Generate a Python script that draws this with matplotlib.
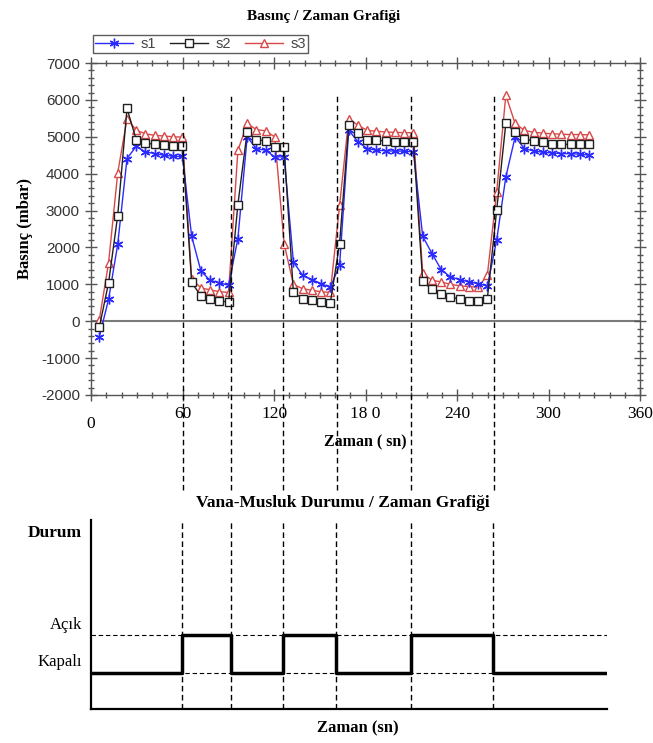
import matplotlib
matplotlib.use('Agg')
import matplotlib.pyplot as plt
from matplotlib.ticker import MultipleLocator

plt.rcParams['axes.unicode_minus'] = False

SERIF = ['Liberation Serif', 'DejaVu Serif']
SANS = ['Liberation Sans', 'DejaVu Sans']

# sample times (s)
t = [5.4, 11.5, 17.5, 23.6, 29.6, 35.7, 41.8, 47.8, 53.9, 59.9,
     66.0, 72.1, 78.1, 84.2, 90.2, 96.3, 102.4, 108.4, 114.5, 120.5,
     126.6, 132.7, 138.7, 144.8, 150.8, 156.9, 163.0, 169.0, 175.1, 181.1,
     187.2, 193.3, 199.3, 205.4, 211.4, 217.5, 223.6, 229.6, 235.7, 241.7,
     247.8, 253.9, 259.9, 266.0, 272.0, 278.1, 284.2, 290.2, 296.3, 302.3,
     308.4, 314.5, 320.5, 326.6]

s1 = [-425, 590, 2085, 4410, 4740, 4590, 4545, 4500, 4470, 4470,
      2300, 1355, 1110, 1040, 975, 2240, 4995, 4680, 4635, 4455,
      4455, 1610, 1245, 1130, 1020, 915, 1520, 5175, 4860, 4680,
      4635, 4620, 4610, 4610, 4590, 2300, 1835, 1400, 1200, 1130,
      1065, 1020, 950, 2195, 3910, 4995, 4680, 4615, 4580, 4560,
      4545, 4540, 4530, 4500]

s2 = [-170, 1040, 2865, 5770, 4925, 4830, 4795, 4780, 4760, 4760,
      1050, 680, 590, 550, 520, 3160, 5140, 4925, 4885, 4725,
      4725, 780, 615, 570, 520, 495, 2105, 5310, 5100, 4925,
      4905, 4885, 4860, 4860, 4860, 1085, 860, 725, 660, 595,
      550, 550, 615, 3010, 5360, 5130, 4950, 4880, 4845, 4815,
      4795, 4795, 4795, 4795]

s3 = [30, 1580, 4020, 5490, 5180, 5080, 5040, 5020, 5000, 4990,
      1150, 900, 850, 800, 780, 4630, 5360, 5195, 5160, 4995,
      2105, 1000, 880, 840, 800, 780, 3140, 5490, 5310, 5175,
      5150, 5130, 5120, 5110, 5110, 1300, 1110, 1065, 1000, 960,
      940, 920, 1250, 3500, 6125, 5360, 5175, 5120, 5100, 5080,
      5070, 5060, 5060, 5050]

# valve switching times (s) and state in each interval (0 = Kapalı, 1 = Açık)
switch_t = [60, 92, 126, 161, 210, 264]
step_t = [0, 60, 92, 126, 161, 210, 264, 339]
state = [0, 1, 0, 1, 0, 1, 0, 0]

xticks = [0, 60, 120, 180, 240, 300, 360]
xtick_labels = ['0', '60', '120', '18 0', '240', '300', '360']

fig = plt.figure(figsize=(6.53, 7.43), dpi=100)

# ---- pressure chart ----
ax = fig.add_axes([0.1394, 0.4684, 0.8407, 0.4468])
ax.axhline(0, color='#7a7a7a', lw=1.5, zorder=1)
ax.plot(t, s1, color='#2a2aff', lw=1, marker=(6, 2, 0), ms=7, mew=1,
        label='s1', zorder=3)
ax.plot(t, s2, color='#202020', lw=1, marker='s', ms=6.3, mfc='white',
        mec='#202020', mew=1, label='s2', zorder=4)
ax.plot(t, s3, color='#d84848', lw=1, marker='^', ms=6.3, mfc='white',
        mec='#d84848', mew=1, label='s3', zorder=2)

for x in switch_t:
    ax.axvline(x, ymin=-0.286, ymax=0.9, color='black', lw=1,
               ls=(0, (4, 2.5)), clip_on=False, zorder=5)

ax.set_xlim(0, 360)
ax.set_ylim(-2000, 7000)
ax.set_xticks(xticks)
ax.set_xticklabels(xtick_labels, fontfamily=SERIF, fontsize=12.5)
ax.xaxis.set_minor_locator(MultipleLocator(10))
ax.yaxis.set_major_locator(MultipleLocator(1000))
ax.yaxis.set_minor_locator(MultipleLocator(200))
for lab in ax.get_yticklabels():
    lab.set_fontfamily(SANS)
    lab.set_fontsize(11)
    lab.set_color('#333333')
ax.tick_params(which='both', direction='inout', top=True, right=True,
               color='#555555', width=1)
ax.tick_params(which='major', length=8, pad=4)
ax.tick_params(which='minor', length=5)
ax.get_xticklabels()[0].set_y(-0.03)
for sp in ax.spines.values():
    sp.set_color('#555555')
    sp.set_linewidth(1)

ax.set_xlabel('Zaman ( sn)', fontfamily=SERIF, fontweight='bold',
              fontsize=11.5, labelpad=2)
ax.set_ylabel('Basınç (mbar)', fontfamily=SERIF, fontweight='bold',
              fontsize=12, labelpad=6)
fig.text(0.495, 0.978, 'Basınç / Zaman Grafiği', ha='center', va='center',
         fontfamily=SERIF, fontweight='bold', fontsize=11)

leg = fig.legend(loc='lower left', bbox_to_anchor=(0.142, 0.928), ncol=3,
                 frameon=True, fancybox=False, edgecolor='#333333',
                 prop={'family': SANS, 'size': 10.5}, handlelength=2.6,
                 handletextpad=0.5, columnspacing=1.0, borderpad=0.15,
                 borderaxespad=0)
for txt in leg.get_texts():
    txt.set_color('#444444')

# ---- valve state chart ----
bx = fig.add_axes([0.1394, 0.0458, 0.790, 0.2543])
bx.step(step_t, state, where='post', color='black', lw=2.5, zorder=3)
bx.axhline(0, color='black', lw=0.8, ls=(0, (4, 2.5)), zorder=2)
bx.axhline(1, color='black', lw=0.8, ls=(0, (4, 2.5)), zorder=2)
for x in switch_t:
    bx.axvline(x, color='black', lw=1, ls=(0, (4, 2.5)), zorder=2)
bx.set_xlim(0, 339)
bx.set_ylim(-0.947, 4.03)
bx.set_xticks([])
bx.set_yticks([])
bx.spines['top'].set_visible(False)
bx.spines['right'].set_visible(False)
bx.spines['left'].set_linewidth(1.6)
bx.spines['bottom'].set_linewidth(1.6)

fig.text(0.126, 0.282, 'Durum', ha='right', va='center', fontfamily=SERIF,
         fontweight='bold', fontsize=12.5)
fig.text(0.126, 0.159, 'Açık', ha='right', va='center', fontfamily=SERIF,
         fontsize=12)
fig.text(0.126, 0.109, 'Kapalı', ha='right', va='center', fontfamily=SERIF,
         fontsize=12)
fig.text(0.525, 0.323, 'Vana-Musluk Durumu / Zaman Grafiği', ha='center',
         va='center', fontfamily=SERIF, fontweight='bold', fontsize=12.5)
fig.text(0.548, 0.02, 'Zaman (sn)', ha='center', va='center',
         fontfamily=SERIF, fontweight='bold', fontsize=12)

fig.savefig('out.png', dpi=100)
